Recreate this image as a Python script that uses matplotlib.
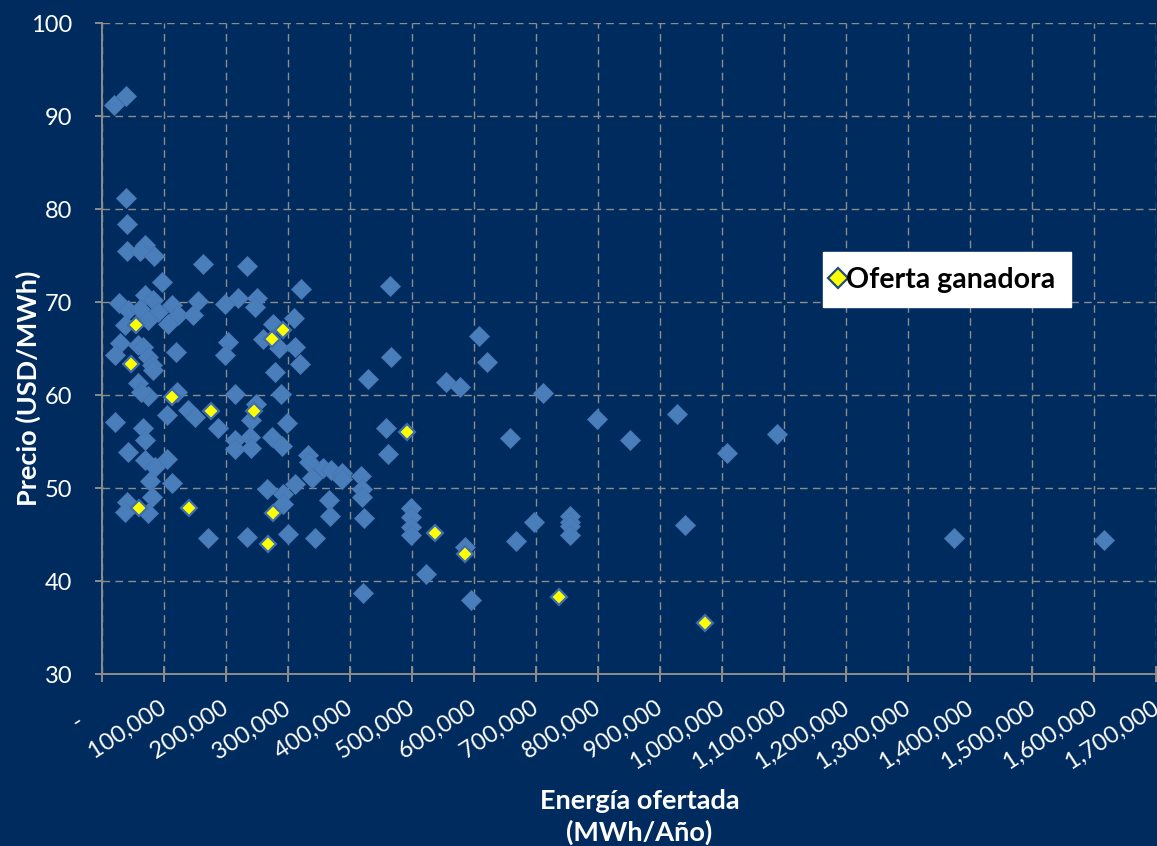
import matplotlib
matplotlib.use('Agg')
import matplotlib.pyplot as plt
from matplotlib.lines import Line2D

# ---- data (Energía ofertada MWh/Año, Precio USD/MWh) ----
energia = [20000, 39000, 39000, 40000, 40000, 70000, 62000, 85000, 164000, 96600,
           235000, 321000, 28000, 70000, 83000, 113000, 155600, 43000, 62000, 91000,
           123000, 147500, 37500, 75000, 107000, 29500, 21400, 59000, 67000, 119600,
           75000, 80500, 83000, 59000, 75000, 64000, 120800, 104700, 139000, 150000,
           188000, 22000, 67000, 70000, 43000, 70000, 104700, 86000, 112700, 78000,
           80500, 40000, 37500, 75000,
           198600, 220000, 249600, 247000, 276000, 310000, 260000, 286000, 311000, 204000,
           199000, 320000, 280000, 215000, 289000, 249000, 241000, 298000, 215000, 239000,
           215000, 241000, 275000, 291000, 332000, 334000, 357000, 370000, 387000, 387000,
           339000, 267000, 312000, 292000, 292000, 367000, 367600, 300000, 234000, 172000,
           344000,
           465000, 466000, 429000, 459000, 461600, 418000, 420000, 419000, 423000, 421000,
           498000, 498000, 498000, 498000, 522000, 555500, 578000, 585000, 596000, 608000,
           621000, 657500, 667000, 696600, 712000, 754000, 754000, 754000, 754000, 798700,
           852000, 928000, 940000, 1008000, 1088000, 1374000, 1616000]
precio = [91.2, 92.2, 81.2, 78.4, 75.5, 76.2, 75.5, 75.0, 74.1, 72.2,
          73.9, 71.4, 69.9, 70.8, 70.2, 69.7, 70.1, 69.2, 69.3, 69.0,
          68.6, 68.6, 67.6, 68.1, 67.7, 65.6, 64.3, 65.4, 65.2, 64.7,
          64.1, 63.3, 62.7, 61.3, 59.9, 60.4, 60.4, 57.9, 58.4, 57.7,
          56.5, 57.1, 56.5, 55.2, 53.9, 53.0, 53.2, 52.3, 50.6, 50.8,
          49.1, 48.5, 47.5, 47.3,
          69.8, 70.5, 70.5, 69.5, 67.7, 68.3, 66.1, 65.1, 65.2, 65.7,
          64.3, 63.4, 62.5, 60.1, 60.1, 59.1, 57.3, 57.0, 55.2, 55.5,
          54.2, 54.3, 55.5, 54.5, 53.6, 52.8, 52.2, 52.0, 51.6, 51.0,
          51.1, 49.9, 50.5, 49.4, 48.3, 48.7, 47.0, 45.1, 44.8, 44.6,
          44.7,
          71.8, 64.1, 61.8, 56.5, 53.7, 51.3, 49.9, 49.1, 46.8, 38.7,
          47.9, 46.9, 45.8, 45.0, 40.8, 61.4, 60.9, 43.7, 38.0, 66.4,
          63.6, 55.4, 44.3, 46.4, 60.2, 47.0, 46.4, 45.9, 45.0, 57.5,
          55.2, 58.0, 46.0, 53.8, 55.8, 44.7, 44.4]

energia_ganadora = [54700, 48000, 112700, 176000, 245000, 275000, 291500, 60500,
                    141000, 276000, 268000, 492700, 537000, 585000, 737000, 972000]
precio_ganadora = [67.6, 63.4, 59.8, 58.3, 58.3, 66.0, 67.0, 47.9,
                   47.9, 47.3, 44.0, 56.0, 45.2, 42.9, 38.3, 35.5]

x_ticks = list(range(0, 1700001, 100000))
x_tick_labels = ['-     '] + [f'{v:,} ' for v in x_ticks[1:]]
y_ticks = list(range(30, 101, 10))

x_label = 'Energía ofertada\n(MWh/Año)'
y_label = 'Precio (USD/MWh)'
legend_label = 'Oferta ganadora'

# ---- style ----
BG = '#002B5F'
BLUE = '#4A7EBB'
GRID = '#8C8C8C'
plt.rcParams['font.family'] = ['Lato', 'DejaVu Sans']

fig = plt.figure(figsize=(11.57, 8.46), dpi=100, facecolor=BG)
ax = fig.add_axes([0.0879, 0.2030, 0.9116, 0.7695], facecolor=BG)

ax.plot(energia, precio, linestyle='none', marker='D', ms=10.0,
        mfc=BLUE, mec='#4676B2', mew=0.6, zorder=3)
ax.plot(energia_ganadora, precio_ganadora, linestyle='none', marker='D', ms=7.8,
        mfc='#FFFF00', mec='#3C6DAE', mew=1.6, zorder=4)

ax.set_xlim(0, 1700000)
ax.set_ylim(30, 100)
ax.set_xticks(x_ticks)
ax.set_xticklabels(x_tick_labels, rotation=33, ha='right', va='top',
                   rotation_mode='anchor', color='white', fontsize=17)
ax.set_yticks(y_ticks)
ax.set_yticklabels([str(v) for v in y_ticks], color='white', fontsize=17)

ax.grid(True, color=GRID, linestyle=(0, (5.5, 3.8)), linewidth=1.0, zorder=0)
ax.set_axisbelow(True)

for s in ['top', 'right']:
    ax.spines[s].set_visible(False)
for s in ['left', 'bottom']:
    ax.spines[s].set_color(GRID)
    ax.spines[s].set_linewidth(1.4)

ax.tick_params(axis='x', direction='inout', length=11, width=1.4, color=GRID, pad=9)
ax.tick_params(axis='y', direction='out', length=5.3, width=1.4, color=GRID, pad=16)

ax.set_xlabel(x_label, color='white', fontsize=19.5, fontweight='bold',
              linespacing=1.3, va='top')
ax.set_ylabel(y_label, color='white', fontsize=19.5, fontweight='bold')
ax.yaxis.set_label_coords(-0.058, 0.44)
ax.xaxis.set_label_coords(0.51, -0.176)

handle = Line2D([], [], linestyle='none', marker='D', ms=10, mfc='#FFFF00',
                mec='#1F4E79', mew=1.6)
leg = ax.legend([handle], [legend_label], loc='upper left',
                bbox_to_anchor=(0.684, 0.649), frameon=True, fancybox=False,
                facecolor='white', edgecolor='white', framealpha=1,
                handlelength=0.0, handletextpad=0.3, borderpad=0.52,
                borderaxespad=0, prop={'weight': 'bold', 'size': 20.5})
for t in leg.get_texts():
    t.set_color('black')

fig.savefig('out.png', dpi=100, facecolor=BG)
